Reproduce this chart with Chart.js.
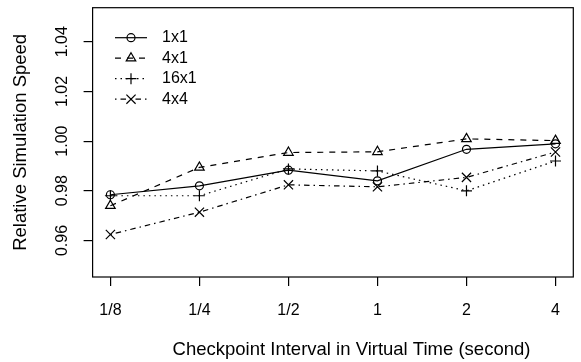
<!DOCTYPE html>
<html>
<head>
<meta charset="utf-8">
<script src="https://cdn.jsdelivr.net/npm/chart.js@4.4.0/dist/chart.umd.min.js"></script>
<style>
  html, body { margin: 0; padding: 0; background: #fff; }
  canvas { display: block; }
</style>
</head>
<body>
<canvas id="chart" width="581" height="362"></canvas>
<script>
// checkpoint intervals (x categories) and y tick values
const xLabels = ['1/8', '1/4', '1/2', '1', '2', '4'];
const yTicks = [0.96, 0.98, 1.00, 1.02, 1.04];

const seriesNames = ['1x1', '4x1', '16x1', '4x4'];
const speed1x1 = [0.9784, 0.9820, 0.9883, 0.9840, 0.9967, 0.9989];
const speed4x1 = [0.9740, 0.9894, 0.9954, 0.9957, 1.0009, 1.0002];
const speed16x1 = [0.9780, 0.9780, 0.9888, 0.9880, 0.9800, 0.9920];
const speed4x4 = [0.9624, 0.9714, 0.9824, 0.9816, 0.9854, 0.9956];

const FAMILY = '"Liberation Sans", Arial, Helvetica, sans-serif';
const FONT = '16px ' + FAMILY;
const TITLE_FONT = '18.5px ' + FAMILY;

function toPoints(values) {
    return values.map((v, i) => ({ x: i, y: v }));
}

function series(label, values, style, radius, dash) {
    return {
        label: label,
        data: toPoints(values),
        borderColor: '#000',
        borderWidth: 1.2,
        borderDash: dash,
        pointStyle: style,
        pointRadius: radius,
        pointBorderColor: '#000',
        pointBackgroundColor: 'rgba(0,0,0,0)',
        pointBorderWidth: 1.2,
        tension: 0,
        fill: false
    };
}

// box, rotated y labels, axis titles and the R-style legend
const decorations = {
    id: 'decorations',
    afterDraw(chart) {
        const ctx = chart.ctx;
        const area = chart.chartArea;
        const yScale = chart.scales.y;
        ctx.save();
        ctx.strokeStyle = '#000';
        ctx.lineWidth = 1.2;
        ctx.strokeRect(area.left, area.top, area.right - area.left, area.bottom - area.top);

        ctx.fillStyle = '#000';
        ctx.font = FONT;
        ctx.textAlign = 'center';
        ctx.textBaseline = 'middle';

        // y tick labels, rotated like R's default
        yScale.ticks.forEach(t => {
            const py = yScale.getPixelForValue(t.value);
            ctx.save();
            ctx.translate(62.5, py);
            ctx.rotate(-Math.PI / 2);
            ctx.fillText(t.value.toFixed(2), 0, 0);
            ctx.restore();
        });

        // axis titles
        ctx.font = TITLE_FONT;
        ctx.save();
        ctx.translate(21, (area.top + area.bottom) / 2);
        ctx.rotate(-Math.PI / 2);
        ctx.fillText('Relative Simulation Speed', 0, 0);
        ctx.restore();
        ctx.fillText('Checkpoint Interval in Virtual Time (second)', 351.5, 350);

        // legend
        ctx.font = FONT;
        chart.data.datasets.forEach((ds, i) => {
            const ly = 37.7 + i * 20.5;
            ctx.save();
            ctx.lineWidth = ds.borderWidth;
            ctx.setLineDash(ds.borderDash || []);
            ctx.beginPath();
            ctx.moveTo(115, ly);
            ctx.lineTo(147, ly);
            ctx.stroke();
            ctx.restore();
            ctx.save();
            ctx.strokeStyle = '#000';
            ctx.fillStyle = 'rgba(0,0,0,0)';
            Chart.helpers.drawPoint(ctx, {
                pointStyle: ds.pointStyle,
                radius: ds.pointRadius,
                borderWidth: ds.pointBorderWidth,
                rotation: 0
            }, 131, ly);
            ctx.restore();
            ctx.textAlign = 'left';
            ctx.fillText(ds.label, 162, ly);
        });
        ctx.restore();
    }
};

const ctx = document.getElementById('chart').getContext('2d');
new Chart(ctx, {
    type: 'line',
    data: {
        datasets: [
            series(seriesNames[0], speed1x1, 'circle', 4, []),
            series(seriesNames[1], speed4x1, 'triangle', 5.5, [6, 6]),
            series(seriesNames[2], speed16x1, 'cross', 5.5, [1.5, 4]),
            series(seriesNames[3], speed4x4, 'crossRot', 6.5, [1.5, 4, 5.5, 4])
        ]
    },
    options: {
        responsive: false,
        animation: false,
        layout: { padding: { top: 5.7, right: 1.5, left: 0, bottom: 0 } },
        plugins: {
            legend: { display: false },
            tooltip: { enabled: false }
        },
        scales: {
            x: {
                type: 'linear',
                min: -0.2,
                max: 5.2,
                afterBuildTicks: axis => { axis.ticks = xLabels.map((l, i) => ({ value: i })); },
                afterFit: axis => { axis.height = 85; },
                border: { display: false },
                grid: {
                    drawOnChartArea: false,
                    drawTicks: true,
                    tickLength: 9,
                    color: '#000',
                    lineWidth: 1.2
                },
                ticks: {
                    color: '#000',
                    font: { family: FAMILY, size: 16 },
                    padding: 15,
                    maxRotation: 0,
                    callback: v => xLabels[v]
                }
            },
            y: {
                min: 0.9453,
                max: 1.0537,
                afterBuildTicks: axis => { axis.ticks = yTicks.map(v => ({ value: v })); },
                afterFit: axis => { axis.width = 92.6; },
                border: { display: false },
                grid: {
                    drawOnChartArea: false,
                    drawTicks: true,
                    tickLength: 9,
                    color: '#000',
                    lineWidth: 1.2
                },
                ticks: { display: false }
            }
        }
    },
    plugins: [decorations]
});
</script>
</body>
</html>
